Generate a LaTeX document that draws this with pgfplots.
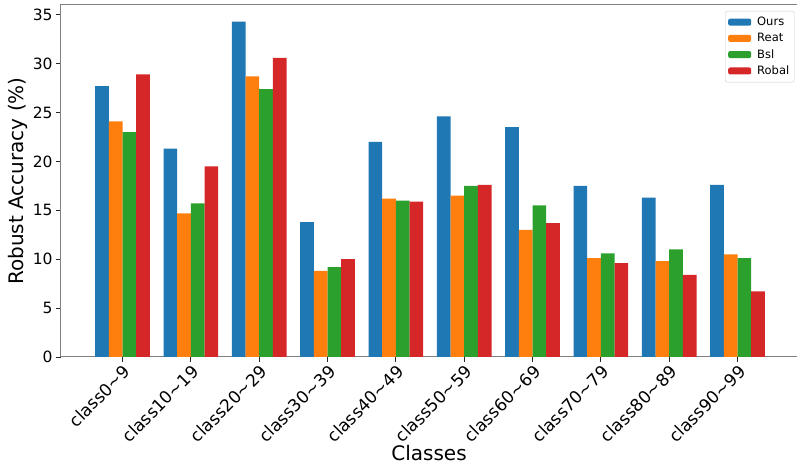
\documentclass[border=0pt]{standalone}
\usepackage{fontspec}
\setmainfont{DejaVu Sans}
\usepackage{pgfplots}
\pgfplotsset{compat=1.18}
\definecolor{tabblue}{HTML}{1F77B4}
\definecolor{taborange}{HTML}{FF7F0E}
\definecolor{tabgreen}{HTML}{2CA02C}
\definecolor{tabred}{HTML}{D62728}
\begin{document}
\begin{tikzpicture}
\begin{axis}[
  scale only axis, width=736bp, height=352bp,
  ymin=0, ymax=36, xmin=-0.9, xmax=9.87,
  ytick={0,5,...,35},
  xtick={0,...,9},
  xticklabels={class0\char"7E 9,class10\char"7E 19,class20\char"7E 29,class30\char"7E 39,class40\char"7E 49,class50\char"7E 59,class60\char"7E 69,class70\char"7E 79,class80\char"7E 89,class90\char"7E 99},
  y tick label style={font=\fontsize{15.5bp}{18bp}\selectfont},
  x tick label style={font=\fontsize{17bp}{19bp}\selectfont, rotate=45, anchor=north east, inner sep=1bp},
  /pgf/number format/assume math mode=true,
  tick pos=left, tick align=outside,
  major tick length=5bp,
  tick style={black!85, line width=0.8bp},
  axis line style={black!50, line width=1bp},
  xlabel={Classes}, ylabel={Robust Accuracy (\%)},
  label style={font=\fontsize{20bp}{22bp}\selectfont},
  ylabel style={yshift=-2bp},
  xlabel style={yshift=3bp},
  ybar, bar width=0.2,
  area legend,
  legend cell align=left,
  legend style={at={(0.9965,0.983)}, anchor=north east, draw=black!20, rounded corners=2bp, fill=white,
    font=\fontsize{11.5bp}{13bp}\selectfont, row sep=2.2bp, inner xsep=3bp, inner ysep=4bp,
    /tikz/every odd column/.append style={column sep=4bp}},
  legend image code/.code={\fill[#1] (0bp,-3.5bp) rectangle (23bp,3.5bp);},
]
\addplot[fill=tabblue, draw=none, bar shift=-0.3] coordinates {(0,27.7) (1,21.3) (2,34.3) (3,13.8) (4,22.0) (5,24.6) (6,23.5) (7,17.5) (8,16.3) (9,17.6)};
\addplot[fill=taborange, draw=none, bar shift=-0.1] coordinates {(0,24.1) (1,14.7) (2,28.7) (3,8.8) (4,16.2) (5,16.5) (6,13.0) (7,10.1) (8,9.8) (9,10.5)};
\addplot[fill=tabgreen, draw=none, bar shift=0.1] coordinates {(0,23.0) (1,15.7) (2,27.4) (3,9.2) (4,16.0) (5,17.5) (6,15.5) (7,10.6) (8,11.0) (9,10.1)};
\addplot[fill=tabred, draw=none, bar shift=0.3] coordinates {(0,28.9) (1,19.5) (2,30.6) (3,10.0) (4,15.9) (5,17.6) (6,13.7) (7,9.6) (8,8.4) (9,6.7)};
\legend{Ours,Reat,Bsl,Robal}
\end{axis}
\pgfresetboundingbox
\useasboundingbox ([xshift=-61bp,yshift=5bp]current axis.north west) rectangle ([yshift=-112bp]current axis.south east);
\end{tikzpicture}
\end{document}
